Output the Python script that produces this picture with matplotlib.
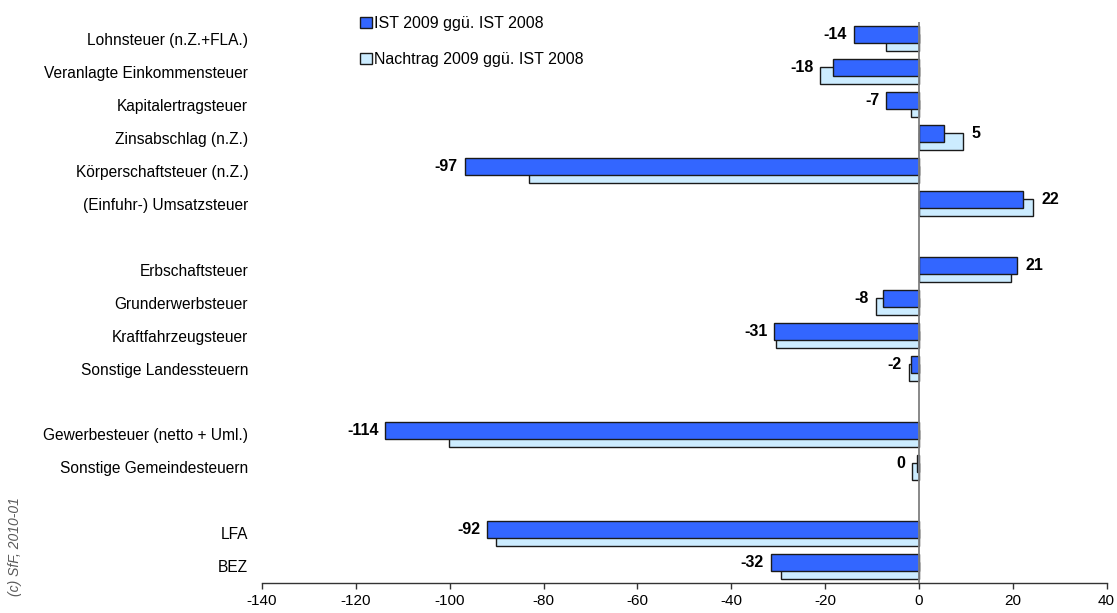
import matplotlib
matplotlib.use("Agg")
import matplotlib.pyplot as plt
from matplotlib.patches import Patch

plt.rcParams['font.family'] = ['Liberation Sans', 'DejaVu Sans']

# Steuerarten (leere Einträge = Abstand zwischen Gruppen)
categories = [
    "Lohnsteuer (n.Z.+FLA.)", "Veranlagte Einkommensteuer", "Kapitalertragsteuer",
    "Zinsabschlag (n.Z.)", "Körperschaftsteuer (n.Z.)", "(Einfuhr-) Umsatzsteuer",
    "",
    "Erbschaftsteuer", "Grunderwerbsteuer", "Kraftfahrzeugsteuer", "Sonstige Landessteuern",
    "",
    "Gewerbesteuer (netto + Uml.)", "Sonstige Gemeindesteuern",
    "",
    "LFA", "BEZ",
]

# Veränderung in Mio. EUR
ist_2009 = [-13.9, -18.3, -6.9, 5.4, -96.8, 22.3, None,
            20.9, -7.6, -30.8, -1.6, None,
            -113.7, -0.4, None,
            -92.0, -31.6]
nachtrag_2009 = [-7.1, -21.0, -1.6, 9.4, -83.0, 24.3, None,
                 19.6, -9.2, -30.5, -2.1, None,
                 -100.2, -1.5, None,
                 -90.2, -29.4]

series_names = ["IST 2009 ggü. IST 2008", "Nachtrag 2009 ggü. IST 2008"]
x_ticks = list(range(-140, 41, 20))

dark_blue = "#3366FF"
light_blue = "#CCECFF"
edge = "#1a1a1a"

fig = plt.figure(figsize=(11.17, 6.13), dpi=100)
ax = fig.add_axes([0.2346, 0.049, 0.756, 0.915])

rows = [i for i, v in enumerate(ist_2009) if v is not None]
ist_vals = [ist_2009[i] for i in rows]
nach_vals = [nachtrag_2009[i] for i in rows]

bar_h = 0.52
shift = 0.125
ax.barh([r + shift for r in rows], nach_vals, height=bar_h, color=light_blue,
        edgecolor=edge, linewidth=1, zorder=2)
ax.barh([r - shift for r in rows], ist_vals, height=bar_h, color=dark_blue,
        edgecolor=edge, linewidth=1, zorder=3)

# value labels beside the outer bar end
for r, a, b in zip(rows, ist_vals, nach_vals):
    if a < 0:
        ax.annotate(f"{round(a)}", xy=(min(a, b), r - shift), xytext=(-5, 0),
                    textcoords="offset points", ha="right", va="center",
                    fontsize=11.5, fontweight="bold")
    else:
        ax.annotate(f"{round(a)}", xy=(max(a, b), r - shift), xytext=(6, 0),
                    textcoords="offset points", ha="left", va="center",
                    fontsize=11.5, fontweight="bold")

ax.axvline(0, color="#7f7f7f", linewidth=1.3, zorder=4)

ax.set_xlim(-140, 40)
ax.set_ylim(16.5, -0.5)
ax.set_xticks(x_ticks)
ax.set_xticklabels([str(t) for t in x_ticks], fontsize=11)
ax.set_yticks(range(len(categories)))
ax.set_yticklabels(categories, fontsize=11.2)
ax.tick_params(axis="y", length=0, pad=10)
ax.tick_params(axis="x", direction="out", length=4, width=1, color="#333333", pad=4)

for side in ("left", "top", "right"):
    ax.spines[side].set_visible(False)
ax.spines["bottom"].set_color("#333333")
ax.spines["bottom"].set_linewidth(1)

handles = [Patch(facecolor=dark_blue, edgecolor=edge),
           Patch(facecolor=light_blue, edgecolor=edge)]
fig.legend(handles=handles, labels=series_names, loc="upper left",
           bbox_to_anchor=(0.317, 0.984), frameon=False, fontsize=11.5,
           handlelength=0.7, handleheight=0.7, handletextpad=0.15,
           labelspacing=1.3, borderaxespad=0)

fig.text(0.0134, 0.108, "(c) SfF, 2010-01", rotation=90, style="italic",
         color="#595959", fontsize=10, ha="center", va="center")

fig.savefig("out.png", dpi=100)
